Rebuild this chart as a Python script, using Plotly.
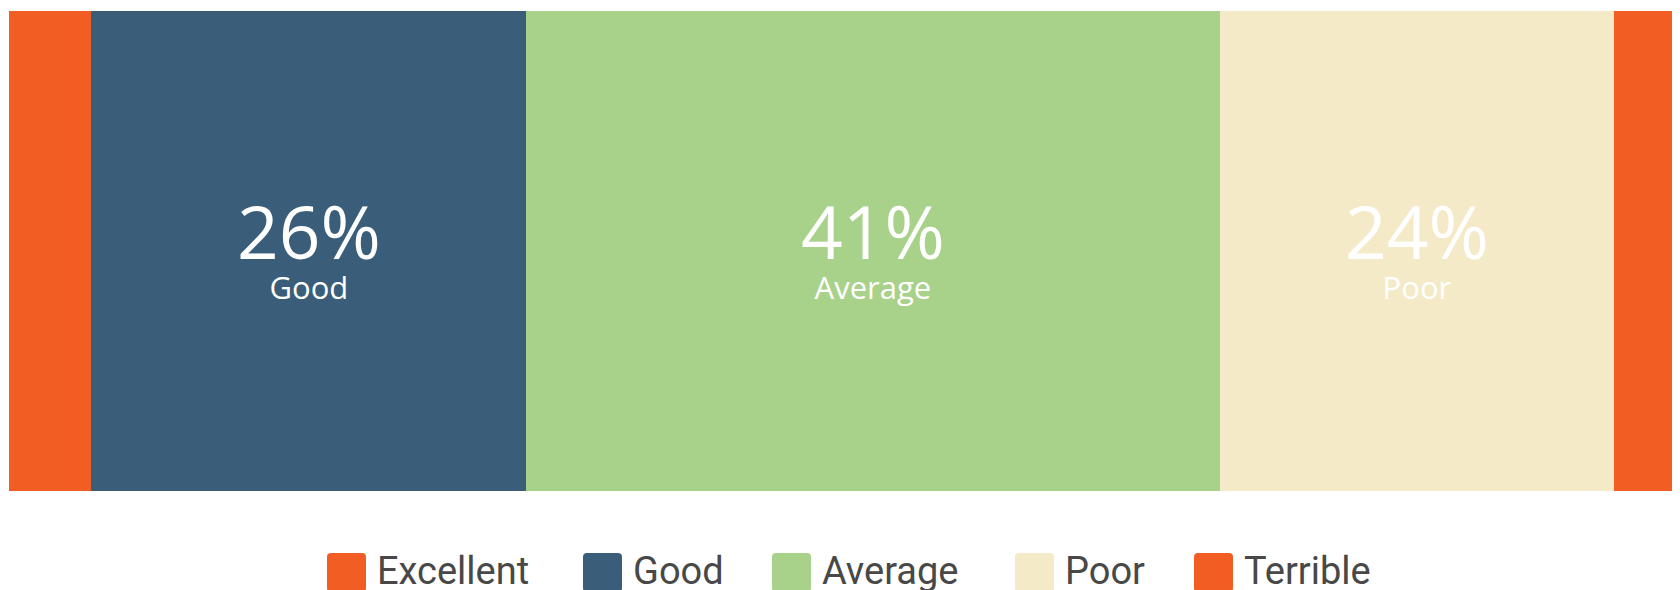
import plotly.graph_objects as go

categories = ["Excellent", "Good", "Average", "Poor", "Terrible"]
values = [4.9, 25.9, 41.3, 23.5, 4.4]
colors = ["#F15D22", "#3A5E7A", "#A8D18A", "#F5EAC8", "#F15D22"]
show_label = [False, True, True, True, False]

W, H = 1680, 590
ML, MR, MT, MB = 1, 0, 3, 107
PW = W - ML - MR
PH = H - MT - MB

fig = go.Figure()
for cat, val, col in zip(categories, values, colors):
    fig.add_trace(go.Bar(
        x=[val], y=[""], orientation="h", name=cat,
        marker=dict(color=col, line=dict(width=0)),
        hoverinfo="skip", showlegend=False,
    ))

# labels inside segments
cum = 0
for cat, val, show in zip(categories, values, show_label):
    mid = cum + val / 2
    cum += val
    if not show:
        continue
    fig.add_annotation(
        x=mid, y=0, xref="x", yref="y",
        text=f"<span style='font-size:73px'>{round(val)}%</span><br>{cat}",
        showarrow=False, yanchor="middle", yshift=7,
        font=dict(family="Open Sans", size=31, color="white"))

# custom legend
def px_x(px):
    return (px - ML) / PW

def px_y(py):
    return (MT + PH - py) / PH

legend_left = [319, 575, 764, 1007, 1186]
sq = 39
top = 545
r = 4
for cat, col, lx in zip(categories, colors, legend_left):
    x0, x1 = lx, lx + sq
    y0, y1 = top, top + sq
    path = (
        f"M {px_x(x0 + r)},{px_y(y0)} L {px_x(x1 - r)},{px_y(y0)} "
        f"Q {px_x(x1)},{px_y(y0)} {px_x(x1)},{px_y(y0 + r)} "
        f"L {px_x(x1)},{px_y(y1 - r)} Q {px_x(x1)},{px_y(y1)} {px_x(x1 - r)},{px_y(y1)} "
        f"L {px_x(x0 + r)},{px_y(y1)} Q {px_x(x0)},{px_y(y1)} {px_x(x0)},{px_y(y1 - r)} "
        f"L {px_x(x0)},{px_y(y0 + r)} Q {px_x(x0)},{px_y(y0)} {px_x(x0 + r)},{px_y(y0)} Z"
    )
    fig.add_shape(type="path", path=path, xref="paper", yref="paper",
                  fillcolor=col, line=dict(width=0), layer="above")
    fig.add_annotation(x=px_x(x1 + 9), y=px_y(563), xref="paper", yref="paper",
                       text=cat, showarrow=False, xanchor="left", yanchor="middle",
                       font=dict(family="Roboto", size=38, color="#484848"))

fig.update_layout(
    width=W, height=H,
    margin=dict(l=ML, r=MR, t=MT, b=MB, pad=0),
    barmode="stack", bargap=0,
    paper_bgcolor="white", plot_bgcolor="white",
    xaxis=dict(range=[0, 100], visible=False, fixedrange=True),
    yaxis=dict(range=[-0.5, 0.5], visible=False, fixedrange=True),
    showlegend=False,
)

fig.write_html("out.html", config={"displayModeBar": False})
